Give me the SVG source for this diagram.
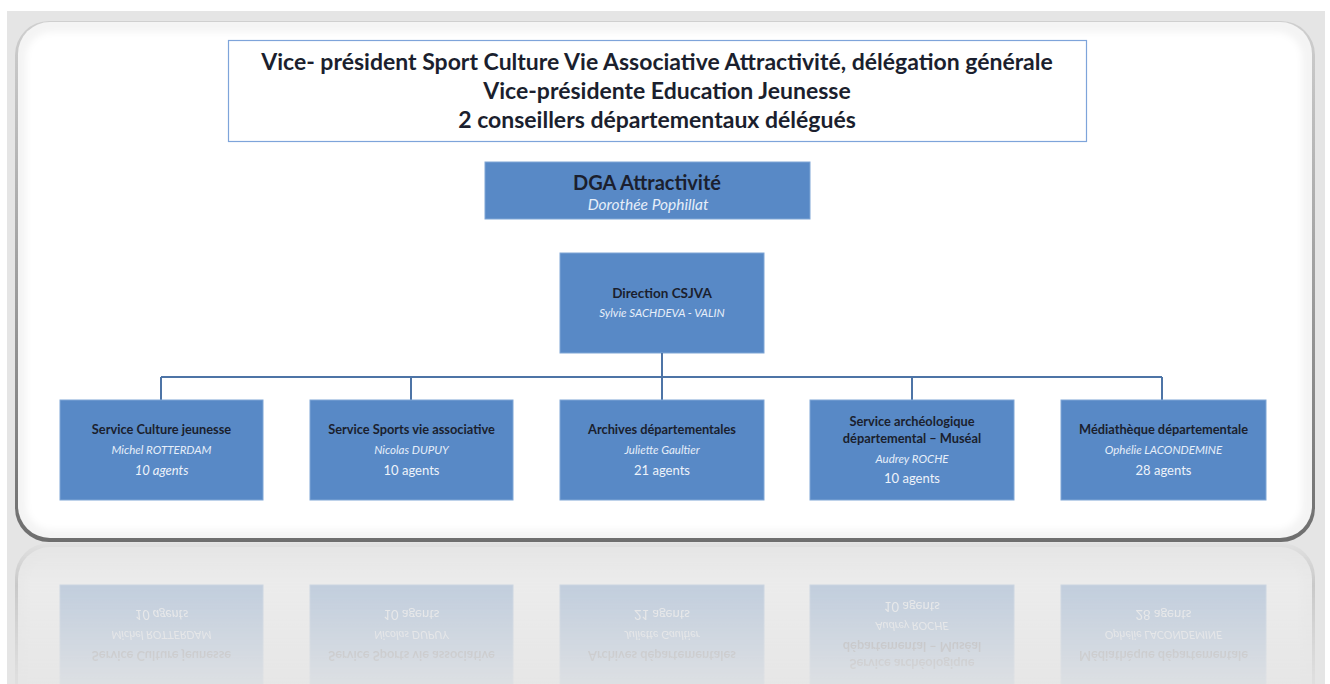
<svg xmlns="http://www.w3.org/2000/svg" xmlns:xlink="http://www.w3.org/1999/xlink" width="1330" height="684" viewBox="0 0 1330 684">
<defs>
<style>
.box{fill:#5889c6;stroke:#7fa6d6;stroke-width:1}
.t{font-family:Lato,"Liberation Sans",sans-serif;text-anchor:middle}
.h{font-weight:bold;fill:#1b1f2e}
.n{font-style:italic;fill:#e6eef9}
.a{fill:#eef3fa}
.con{stroke:#4d74a6;stroke-width:2;fill:none}
</style>
<linearGradient id="edge" x1="0" y1="0" x2="0" y2="1">
<stop offset="0" stop-color="#cfcfcf"/><stop offset="1" stop-color="#6e6e6e"/>
</linearGradient>
<linearGradient id="fade" x1="0" y1="0" x2="0" y2="1">
<stop offset="0" stop-color="#fff" stop-opacity="0.05"/><stop offset="0.3" stop-color="#fff" stop-opacity="0.42"/><stop offset="1" stop-color="#fff" stop-opacity="0.1"/>
</linearGradient>
<mask id="rm" maskUnits="userSpaceOnUse" x="0" y="543" width="1330" height="141">
<rect x="0" y="543" width="1330" height="141" fill="url(#fade)"/>
</mask>
<filter id="soft" x="-5%" y="-5%" width="110%" height="110%"><feGaussianBlur stdDeviation="3"/></filter>
</defs>
<rect x="0" y="0" width="1330" height="684" fill="#ffffff"/>
<rect x="7" y="11" width="1318" height="673" fill="#e5e5e5"/>
<g id="panel">
<rect x="15" y="21" width="1300" height="521" rx="34" fill="url(#edge)"/>
<rect x="18" y="22" width="1294" height="516" rx="32" fill="#f4f4f4"/>
<rect x="26" y="32" width="1276" height="498" rx="26" fill="#ffffff" filter="url(#soft)"/>
<g id="top">
<rect x="228.5" y="40.5" width="858" height="101" fill="#ffffff" stroke="#7ea4da" stroke-width="1.2"/>
<text class="t h" x="657" y="70" font-size="23" fill="#111">Vice- président Sport Culture Vie Associative Attractivité, délégation générale</text>
<text class="t h" x="667" y="99" font-size="23" fill="#111">Vice-présidente Education Jeunesse</text>
<text class="t h" x="657" y="128" font-size="23" fill="#111">2 conseillers départementaux délégués</text>
</g>
<g id="dga">
<rect class="box" x="485" y="162" width="325" height="57"/>
<text class="t h" x="647" y="190" font-size="20">DGA Attractivité</text>
<text class="t n" x="648" y="210" font-size="15.5">Dorothée Pophillat</text>
</g>
<g id="direction">
<rect class="box" x="560" y="253" width="204" height="100"/>
<text class="t h" x="662" y="298" font-size="13.5">Direction CSJVA</text>
<text class="t n" x="662" y="317" font-size="11.5">Sylvie SACHDEVA - VALIN</text>
</g>
<g id="connectors">
<path class="con" d="M662 353V377M161 377H1162M161 377V400M411 377V400M662 377V400M912 377V400M1162 377V400"/>
</g>
<g id="row">
<g id="s1">
<rect class="box" x="60" y="400" width="203" height="100"/>
<text class="t h" x="161.5" y="434" font-size="12.8">Service Culture jeunesse</text>
<text class="t n" x="161.5" y="454" font-size="11.5">Michel ROTTERDAM</text>
<text class="t a" x="161.5" y="475" font-size="13" font-style="italic">10 agents</text>
</g>
<g id="s2">
<rect class="box" x="310" y="400" width="203" height="100"/>
<text class="t h" x="411.5" y="434" font-size="12.8">Service Sports vie associative</text>
<text class="t n" x="411.5" y="454" font-size="11.5">Nicolas DUPUY</text>
<text class="t a" x="411.5" y="475" font-size="13">10 agents</text>
</g>
<g id="s3">
<rect class="box" x="560" y="400" width="204" height="100"/>
<text class="t h" x="662" y="434" font-size="12.8">Archives départementales</text>
<text class="t n" x="662" y="454" font-size="11.5">Juliette Gaultier</text>
<text class="t a" x="662" y="475" font-size="13">21 agents</text>
</g>
<g id="s4">
<rect class="box" x="810" y="400" width="204" height="100"/>
<text class="t h" x="912" y="426" font-size="12.8">Service archéologique</text>
<text class="t h" x="912" y="443" font-size="12.8">départemental – Muséal</text>
<text class="t n" x="912" y="463" font-size="11.5">Audrey ROCHE</text>
<text class="t a" x="912" y="483" font-size="13">10 agents</text>
</g>
<g id="s5">
<rect class="box" x="1061" y="400" width="205" height="100"/>
<text class="t h" x="1163.5" y="434" font-size="12.8">Médiathèque départementale</text>
<text class="t n" x="1163.5" y="454" font-size="11.5">Ophélie LACONDEMINE</text>
<text class="t a" x="1163.5" y="475" font-size="13">28 agents</text>
</g>
</g>
</g>
<g id="reflection" mask="url(#rm)" opacity="0.6">
<use xlink:href="#panel" transform="translate(0,1085) scale(1,-1)"/>
</g>
</svg>
